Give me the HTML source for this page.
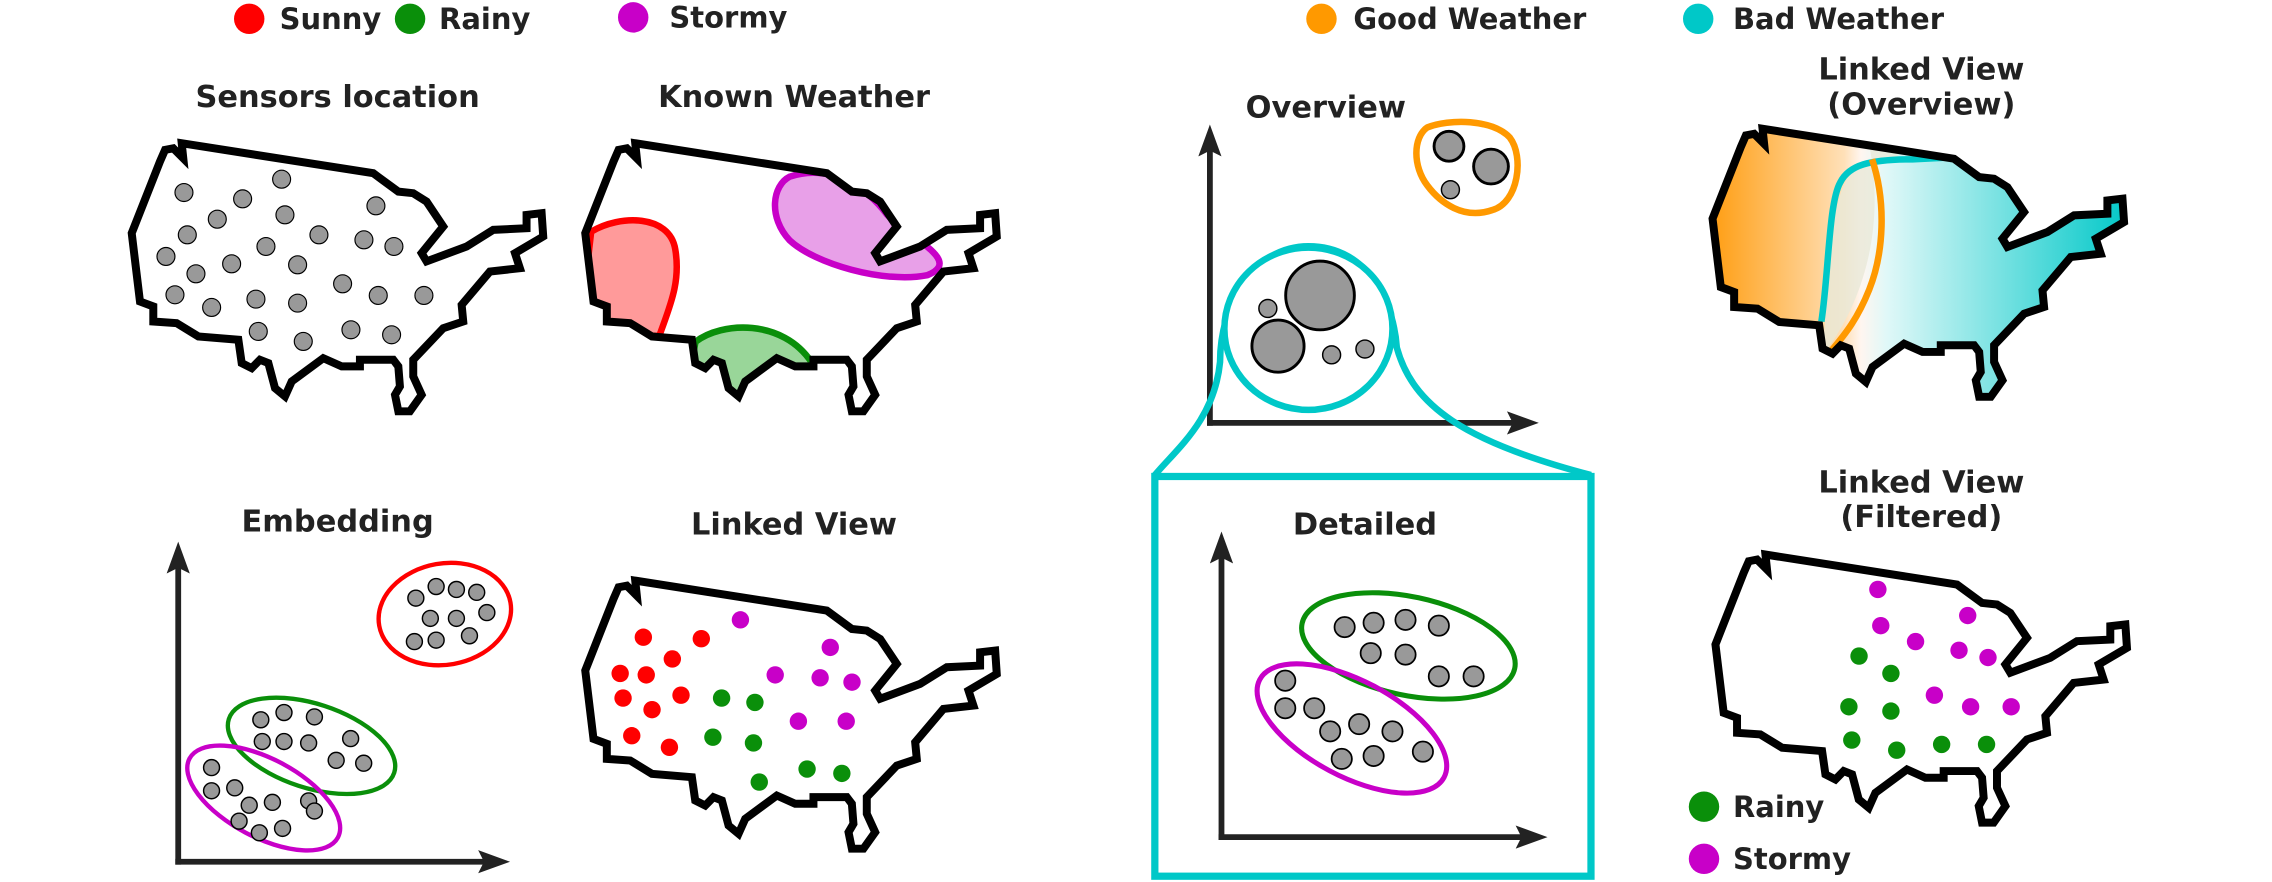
<!DOCTYPE html>
<html><head><meta charset="utf-8"><style>
html,body{margin:0;padding:0;background:#fff;}
svg{display:block;}
text{font-family:"DejaVu Sans","Liberation Sans",sans-serif;font-weight:bold;fill:#222;}
</style></head><body>
<svg id="fig" width="2272" height="882" viewBox="0 0 1568 609" preserveAspectRatio="none" xmlns="http://www.w3.org/2000/svg">
<defs>
<path id="usmap" d="M90.9,161 L96.6,208.2 L105.8,211.6 L105.8,222 L121.9,223.1 L136.9,232.3 L164.5,234.6 L166.8,250.7 L173.7,254.2 L179.4,248.4 L185.2,250.7 L189.8,268 L196.7,273.7 L201.3,263.4 L223.1,247.3 L235.8,253 L248.4,253 L248.4,248.4 L271.4,248.4 L274.9,253 L276,266.8 L272.6,272.6 L274.9,284 L282.9,284 L291,272.6 L285.2,259.9 L285.2,248.4 L305.9,226.6 L319.7,222 L318.6,210.5 L338.1,187.5 L358.8,185.2 L355.4,174.8 L374.9,163.3 L373.8,147.2 L363.4,148.4 L363.4,157.6 L340.4,158.7 L322,170.2 L294.4,180.5 L291,174.8 L305.9,156.4 L294.4,139.2 L285.2,133.4 L274.9,132.3 L257.6,119.6 L125.4,98.9 L126.5,109.3 L119.6,102.4 L113.9,103.5 L110.4,111.5 Z"/>
<clipPath id="clip2"><use href="#usmap" transform="translate(313,0)"/></clipPath>
<clipPath id="clip4"><use href="#usmap" transform="translate(1091,-10)"/></clipPath>
<linearGradient id="wgrad" x1="1180" x2="1470" y1="0" y2="0" gradientUnits="userSpaceOnUse">
<stop offset="0" stop-color="#ff9d10"/><stop offset="0.32" stop-color="#ffe0b8"/><stop offset="0.36" stop-color="#fff6f0"/><stop offset="0.42" stop-color="#e0f8f8"/><stop offset="1" stop-color="#00c8c8"/>
</linearGradient>
<marker id="arr" markerWidth="22" markerHeight="16" refX="6" refY="8" orient="auto" markerUnits="userSpaceOnUse" viewBox="0 0 22 16"><path d="M0,0 L22,8 L0,16 L4,8 Z" fill="#222"/></marker>
</defs>

<!-- legends -->
<g>
<circle cx="172" cy="13" r="10.5" fill="#f00"/>
<text x="193" y="20" font-size="20">Sunny</text>
<circle cx="283" cy="13" r="10.5" fill="#0a8f0a"/>
<text x="303" y="20" font-size="20">Rainy</text>
<circle cx="437" cy="12" r="10.5" fill="#c800c8"/>
<text x="462" y="19" font-size="20">Stormy</text>
</g>
<g>
<circle cx="912" cy="13" r="10.5" fill="#ff9900"/>
<text x="934" y="20" font-size="20">Good Weather</text>
<circle cx="1172" cy="13" r="10.5" fill="#00c8c8"/>
<text x="1196" y="20" font-size="20">Bad Weather</text>
</g>
<g>
<circle cx="1176" cy="557" r="10.5" fill="#0a8f0a"/>
<text x="1196" y="564" font-size="20">Rainy</text>
<circle cx="1176" cy="593" r="10.5" fill="#c800c8"/>
<text x="1196" y="600" font-size="20">Stormy</text>
</g>

<!-- titles -->
<g font-size="21" text-anchor="middle">
<text x="233" y="74">Sensors location</text>
<text x="548" y="74">Known Weather</text>
<text x="915" y="81">Overview</text>
<text x="1326" y="55">Linked View</text>
<text x="1326" y="79">(Overview)</text>
<text x="233" y="367">Embedding</text>
<text x="548" y="369">Linked View</text>
<text x="942" y="369">Detailed</text>
<text x="1326" y="340">Linked View</text>
<text x="1326" y="364">(Filtered)</text>
</g>

<!-- map 1 -->
<g id="map1">
<use href="#usmap" fill="#fff" stroke="#000" stroke-width="5.5" stroke-linejoin="miter"/>
</g>

<!-- map 2 -->
<g id="map2">
<use href="#usmap" transform="translate(313,0)" fill="#fff"/>
<g clip-path="url(#clip2)">
<path d="M408,160 C428,148 462,148 466,172 C470,195 462,212 455,232 L400,230 Z" fill="#ff9a9a" stroke="#f00" stroke-width="4.5"/>
<path d="M545,122 C575,112 600,132 612,148 C628,165 665,180 640,190 C610,196 562,182 545,166 C530,150 533,128 545,122 Z" fill="#e8a0e8" stroke="#c800c8" stroke-width="4.5"/>
<path d="M480,236 C498,222 540,220 560,250 L560,290 L470,290 Z" fill="#99d699" stroke="#0a8f0a" stroke-width="4.5"/>
</g>
<use href="#usmap" transform="translate(313,0)" fill="none" stroke="#000" stroke-width="5.5"/>
</g>

<!-- map 3 -->
<g id="map3">
<use href="#usmap" transform="translate(313,302)" fill="#fff" stroke="#000" stroke-width="5.5"/>
</g>

<!-- map 4 -->
<g id="map4">
<g clip-path="url(#clip4)">
<rect x="1170" y="80" width="310" height="210" fill="url(#wgrad)"/>
<path d="M1258,240 C1262,200 1262,140 1276,122 C1282,112 1300,110 1310,110 L1310,100 L1290,100 C1300,150 1290,200 1262,240 Z" fill="#e8e8d8" opacity="0.8"/>
<path d="M1257,222 C1262,190 1262,140 1270,126 C1276,114 1290,110 1320,110 L1360,108" fill="none" stroke="#00c8c8" stroke-width="4.5"/>
<path d="M1292,110 C1302,140 1300,175 1290,200 C1282,220 1274,230 1264,242" fill="none" stroke="#ff9900" stroke-width="4.5"/>
</g>
<use href="#usmap" transform="translate(1091,-10)" fill="none" stroke="#000" stroke-width="5.5"/>
</g>

<!-- map 5 -->
<g id="map5">
<use href="#usmap" transform="translate(1093,284)" fill="#fff" stroke="#000" stroke-width="5.5"/>
</g>

<!-- embedding -->
<g id="embed">
<line x1="123" y1="597" x2="123" y2="390" stroke="#222" stroke-width="4" marker-end="url(#arr)"/>
<line x1="121" y1="595" x2="336" y2="595" stroke="#222" stroke-width="4" marker-end="url(#arr)"/>
<ellipse cx="307" cy="424" rx="46" ry="35" transform="rotate(-10 307 424)" fill="none" stroke="#f00" stroke-width="3"/>
<ellipse cx="215" cy="515" rx="60" ry="29" transform="rotate(18 215 515)" fill="none" stroke="#0a8f0a" stroke-width="3"/>
<ellipse cx="182" cy="551" rx="58" ry="27" transform="rotate(28 182 551)" fill="none" stroke="#c800c8" stroke-width="3"/>
</g>

<!-- overview -->
<g id="overview">
<line x1="835" y1="294" x2="835" y2="102" stroke="#222" stroke-width="4" marker-end="url(#arr)"/>
<line x1="833" y1="292" x2="1046" y2="292" stroke="#222" stroke-width="4" marker-end="url(#arr)"/>
<path d="M985,88 C1000,82 1030,82 1042,95 C1052,108 1048,140 1030,145 C1010,152 994,140 985,128 C975,115 975,95 985,88 Z" fill="none" stroke="#ff9900" stroke-width="4.5"/>
<path d="M797,328 C812,310 838,290 842,250 C842,210 865,170 903,170 C945,170 962,210 964,240 C975,280 1010,305 1098,328" fill="none" stroke="#00c8c8" stroke-width="4.5"/>
<ellipse cx="903" cy="227" rx="58" ry="56" fill="#fff" stroke="#00c8c8" stroke-width="4.5"/>
</g>

<!-- detailed -->
<g id="detailed">
<rect x="797" y="329" width="301" height="276" fill="none" stroke="#00c8c8" stroke-width="5"/>
<line x1="843" y1="580" x2="843" y2="383" stroke="#222" stroke-width="4" marker-end="url(#arr)"/>
<line x1="841" y1="578" x2="1052" y2="578" stroke="#222" stroke-width="4" marker-end="url(#arr)"/>
<ellipse cx="972" cy="446" rx="75" ry="34" transform="rotate(12 972 446)" fill="none" stroke="#0a8f0a" stroke-width="3.5"/>
<ellipse cx="933" cy="503" rx="72" ry="33" transform="rotate(28 933 503)" fill="none" stroke="#c800c8" stroke-width="3.5"/>
</g>
</svg>
<script>
// sensor dots (map 1), in zoom-space units converted below
const sensorX = [192,368,485,292,495,768,202,438,597,732,822,138,335,533,228,165,275,408,533,668,775,912,415,550,693,815];
const sensorY = [188,207,148,268,255,228,315,350,315,330,350,380,402,405,432,495,533,508,520,462,497,497,605,635,600,615];
// linked view dots (map 3)
const linkedX = [444,464,484,428,446,430,450,470,436,462, 511,573,535,566,551,584,588, 498,521,492,520,557,581,524];
const linkedY = [440,455,441,465,466,482,490,480,508,516, 428,447,466,468,498,498,471, 482,485,509,513,531,534,540];
const linkedC = ['s','s','s','s','s','s','s','s','s','s','t','t','t','t','t','t','t','r','r','r','r','r','r','r'];
// filtered dots (map 5)
const filtX = [1296,1358,1298,1322,1352,1372,1360,1388,1335, 1283,1305,1276,1305,1278,1309,1340,1371];
const filtY = [407,425,432,443,449,454,488,488,480, 453,465,488,491,511,518,514,514];
const filtC = ['t','t','t','t','t','t','t','t','t','r','r','r','r','r','r','r','r'];
// embedding dots
const embX = [287,301,315,329,297,315,336,286,301,324, 180,196,217,181,196,213,242,232,251, 146,162,146,172,188,213,179,195,217,165];
const embY = [413,405,407,409,427,427,423,443,442,439, 497,492,495,512,512,513,510,525,527, 530,544,546,556,554,553,575,572,560,567];
// overview dots
const ovX = [1000,1029,1001, 911,882,875,919,942];
const ovY = [101,115,131, 204,239,213,245,241];
const ovR = [10.3,12,6.2, 23.7,18,6.2,6.2,6.2];
// detailed dots
const detX = [928,948,970,993,946,970,993,1017, 887,887,907,918,938,961,926,948,982];
const detY = [433,430,428,432,451,452,467,467, 470,489,489,505,500,505,524,522,519];

const NS='http://www.w3.org/2000/svg';
const colors={s:'#f00',r:'#0a8f0a',t:'#c800c8'};
function dot(parent,x,y,r,fill,sw){
  const c=document.createElementNS(NS,'circle');
  c.setAttribute('cx',x);c.setAttribute('cy',y);c.setAttribute('r',r);
  c.setAttribute('fill',fill);c.setAttribute('stroke','#000');c.setAttribute('stroke-width',sw);
  parent.appendChild(c);return c;
}
const zx=v=>82.8+v*0.23, zy=v=>89.7+v*0.23;
const m1=document.getElementById('map1');
sensorX.forEach((v,i)=>{const c=dot(m1,zx(v),zy(sensorY[i]),6.2,'#999',0.8);

});
const m3=document.getElementById('map3');
linkedX.forEach((v,i)=>{const c=dot(m3,v,linkedY[i],6,colors[linkedC[i]],0);

});
const m5=document.getElementById('map5');
filtX.forEach((v,i)=>{const c=dot(m5,v,filtY[i],6,colors[filtC[i]],0);

});
const em=document.getElementById('embed');
embX.forEach((v,i)=>{const c=dot(em,v,embY[i],5.5,'#999',1);

});
const ov=document.getElementById('overview');
ovX.forEach((v,i)=>{const c=dot(ov,v,ovY[i],ovR[i],'#999',ovR[i]>8?2:1);

});
const de=document.getElementById('detailed');
detX.forEach((v,i)=>{const c=dot(de,v,detY[i],7,'#999',1.2);

});
</script>
</body></html>
